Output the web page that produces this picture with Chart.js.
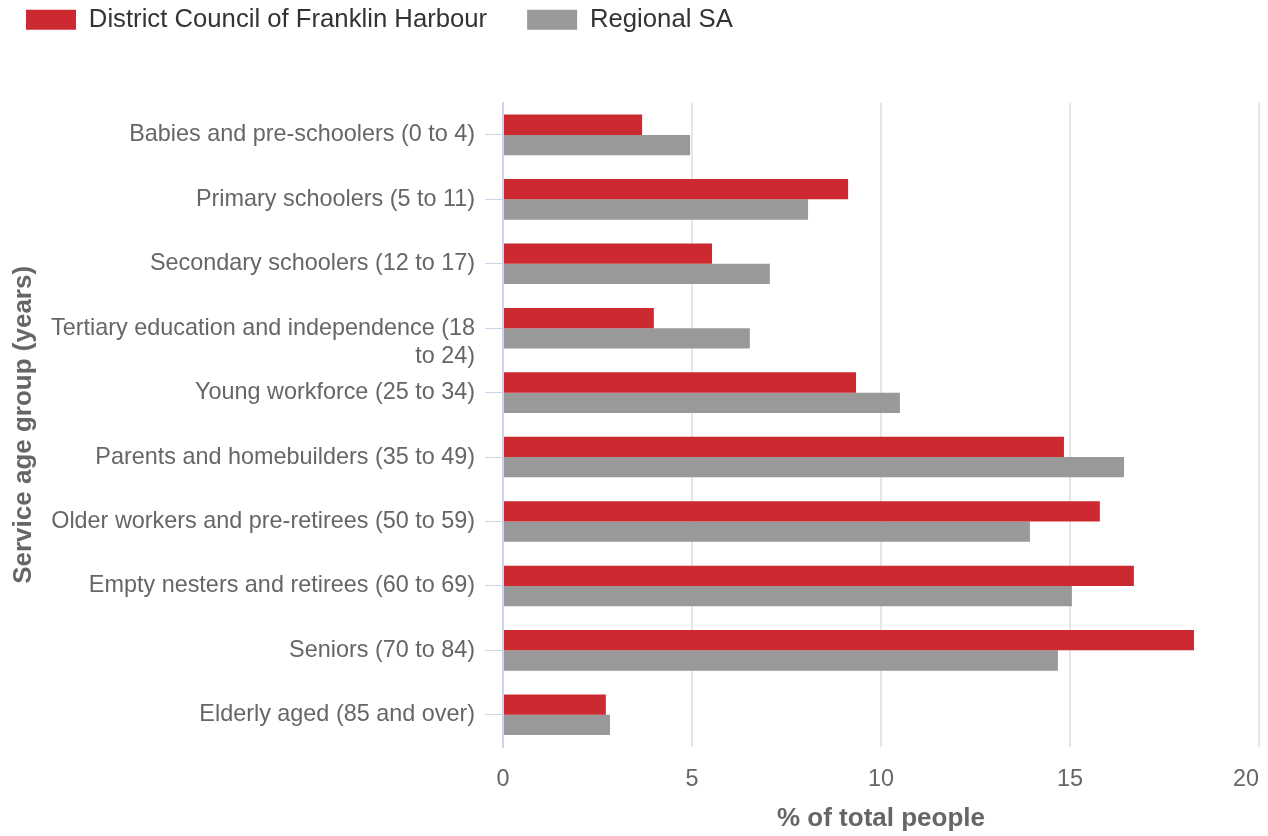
<!DOCTYPE html>
<html lang="en">
<head>
    <meta charset="UTF-8">
    <title>Service age groups</title>
    <script src="https://cdn.jsdelivr.net/npm/chart.js"></script>
    <style>
        body { margin: 0; background: #fff; }
        #wrap { width: 1268px; height: 836px; position: relative; }
    </style>
</head>
<body>
    <div id="wrap">
        <canvas id="ageChart"></canvas>
    </div>

    <script>
        // categories (tertiary label starts on the category line, like the original)
        const categories = [
            'Babies and pre-schoolers (0 to 4)',
            'Primary schoolers (5 to 11)',
            'Secondary schoolers (12 to 17)',
            ['', 'Tertiary education and independence (18', 'to 24)'],
            'Young workforce (25 to 34)',
            'Parents and homebuilders (35 to 49)',
            'Older workers and pre-retirees (50 to 59)',
            'Empty nesters and retirees (60 to 69)',
            'Seniors (70 to 84)',
            'Elderly aged (85 and over)'
        ];

        const franklinHarbour = [3.68, 9.13, 5.53, 3.99, 9.34, 14.84, 15.79, 16.69, 18.28, 2.72];
        const regionalSA = [4.95, 8.07, 7.06, 6.53, 10.5, 16.43, 13.94, 15.05, 14.68, 2.83];

        const xTicks = [0, 5, 10, 15, 20];

        const fontFamily = '"Liberation Sans", Arial, sans-serif';

        // extra room under the legend
        const legendMargin = {
            id: 'legendMargin',
            beforeInit(chart) {
                const fit = chart.legend.fit;
                chart.legend.fit = function () {
                    fit.bind(chart.legend)();
                    this.height += 60;
                };
            }
        };

        const ctx = document.getElementById('ageChart').getContext('2d');
        new Chart(ctx, {
            type: 'bar',
            data: {
                labels: categories,
                datasets: [
                    {
                        label: 'District Council of Franklin Harbour',
                        data: franklinHarbour,
                        backgroundColor: '#cc2a30',
                        borderWidth: 0
                    },
                    {
                        label: 'Regional SA',
                        data: regionalSA,
                        backgroundColor: '#999999',
                        borderWidth: 0
                    }
                ]
            },
            options: {
                indexAxis: 'y',
                responsive: true,
                maintainAspectRatio: false,
                animation: false,
                categoryPercentage: 0.63,
                barPercentage: 1,
                layout: {
                    padding: { top: -33, left: -14, right: 9, bottom: 0 }
                },
                plugins: {
                    legend: {
                        position: 'top',
                        align: 'start',
                        labels: {
                            boxWidth: 50,
                            boxHeight: 20,
                            padding: 40,
                            color: '#333333',
                            font: { family: fontFamily, size: 25.7 }
                        }
                    },
                    tooltip: { enabled: false }
                },
                scales: {
                    x: {
                        min: 0,
                        max: 20,
                        afterBuildTicks: scale => {
                            scale.ticks = xTicks.map(v => ({ value: v }));
                        },
                        afterFit: scale => {
                            scale.height = 89;
                            scale.paddingLeft = 0;
                            scale.paddingRight = 0;
                        },
                        grid: {
                            color: '#e6e6e6',
                            lineWidth: 2,
                            drawTicks: false
                        },
                        border: { display: false },
                        ticks: {
                            padding: 19,
                            color: '#666666',
                            font: { family: fontFamily, size: 23.4 },
                            // last label sits inside the plot edge
                            callback: v => v === 20 ? '20\u00a0\u00a0\u00a0\u00a0' : String(v)
                        },
                        title: {
                            display: true,
                            text: '% of total people',
                            color: '#666666',
                            font: { family: fontFamily, size: 26, weight: 'bold' },
                            padding: { top: 9, bottom: 2 }
                        }
                    },
                    y: {
                        afterFit: scale => {
                            scale.width = 503 + 14;
                        },
                        grid: {
                            offset: false,
                            drawOnChartArea: false,
                            tickLength: 18,
                            color: '#ccd6eb',
                            lineWidth: 1
                        },
                        border: { color: '#ccd6eb', width: 2 },
                        ticks: {
                            autoSkip: false,
                            padding: 10,
                            color: '#666666',
                            font: { family: fontFamily, size: 23.4 }
                        },
                        title: {
                            display: true,
                            text: 'Service age group (years)',
                            color: '#666666',
                            font: { family: fontFamily, size: 26, weight: 'bold' },
                            padding: { top: 22, bottom: 0 }
                        }
                    }
                }
            },
            plugins: [legendMargin]
        });
    </script>
</body>
</html>
